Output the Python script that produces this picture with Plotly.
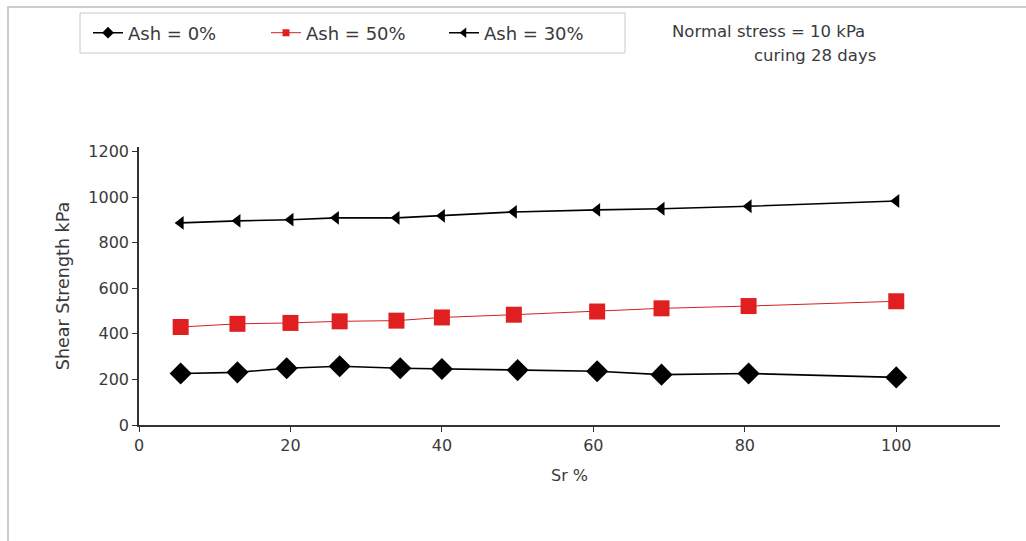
import plotly.graph_objects as go

# Data
sr_ash0 = [5.5, 13, 19.5, 26.5, 34.5, 40, 50, 60.5, 69, 80.5, 100]
ss_ash0 = [226, 231, 249, 258, 249, 246, 241, 236, 221, 226, 209]

sr_ash50 = [5.5, 13, 20, 26.5, 34, 40, 49.5, 60.5, 69, 80.5, 100]
ss_ash50 = [430, 444, 448, 455, 458, 472, 484, 498, 512, 522, 543]

sr_ash30 = [5.5, 13, 20, 26, 34, 40, 49.5, 60.5, 69, 80.5, 100]
ss_ash30 = [887, 896, 901, 909, 909, 918, 935, 944, 949, 960, 983]

names = ["Ash = 0%", "Ash = 50%", "Ash = 30%"]
x_ticks = [0, 20, 40, 60, 80, 100]
y_ticks = [0, 200, 400, 600, 800, 1000, 1200]

FONT = "DejaVu Sans, Verdana, sans-serif"
TXT = "#3a3a3a"

# plot area geometry (pixels) used to convert page positions to paper coords
L, R, T, B = 139, 26, 147, 116
W, H = 1026, 541
PW, PH = W - L - R, H - T - B


def px(x):
    return (x - L) / PW


def py(y):
    return (H - B - y) / PH


fig = go.Figure()

series = [
    (sr_ash0, ss_ash0, "black", "black", "diamond", 17, 9, 1.6),
    (sr_ash50, ss_ash50, "#d42020", "#e02020", "square", 16, 7, 1.0),
    (sr_ash30, ss_ash30, "black", "black", "triangle-left", 12, 9, 1.6),
]

for (xs, ys, lc, mc, sym, msize, lsize, lw), name in zip(series, names):
    fig.add_trace(go.Scatter(
        x=xs, y=ys, mode="lines+markers", name=name, showlegend=False,
        line=dict(color=lc, width=lw),
        marker=dict(symbol=sym, size=msize, color=mc, line=dict(width=0)),
    ))
    # legend-only entry with small markers
    fig.add_trace(go.Scatter(
        x=[None], y=[None], mode="lines+markers", name=name, showlegend=True,
        line=dict(color=lc, width=lw),
        marker=dict(symbol=sym, size=lsize, color=mc, line=dict(width=0)),
    ))

axis_common = dict(
    showgrid=False, zeroline=False, showline=True, linecolor="#333",
    linewidth=1.5, ticks="outside", ticklen=5, tickwidth=1.2,
    tickcolor="#333", tickfont=dict(family=FONT, size=16, color=TXT),
)

fig.update_xaxes(range=[0, 113.7], tickvals=x_ticks,
                 title=dict(text="Sr %", font=dict(family=FONT, size=16, color=TXT), standoff=16),
                 **axis_common)
fig.update_yaxes(range=[0, 1220], tickvals=y_ticks,
                 title=dict(text="Shear Strength kPa", font=dict(family=FONT, size=17.5, color=TXT), standoff=14),
                 **axis_common)

fig.update_layout(
    width=W, height=H,
    margin=dict(l=L, r=R, t=T, b=B),
    paper_bgcolor="white", plot_bgcolor="white",
    font=dict(family=FONT, color=TXT),
    legend=dict(
        orientation="h", x=px(88), y=py(33), xanchor="left", yanchor="middle",
        borderwidth=0, bgcolor="rgba(0,0,0,0)",
        font=dict(family=FONT, size=18, color=TXT),
        entrywidth=133, entrywidthmode="pixels", itemwidth=30,
    ),
    shapes=[
        # outer frame (top and left)
        dict(type="line", xref="paper", yref="paper",
             x0=px(7), x1=px(1030), y0=py(7), y1=py(7),
             line=dict(color="#cccccc", width=2)),
        dict(type="line", xref="paper", yref="paper",
             x0=px(8), x1=px(8), y0=py(7), y1=py(545),
             line=dict(color="#cccccc", width=2)),
        # legend box
        dict(type="rect", xref="paper", yref="paper",
             x0=px(80), x1=px(625), y0=py(53), y1=py(13),
             line=dict(color="#c8c8c8", width=1), layer="below"),
    ],
    annotations=[
        dict(text="Normal stress = 10 kPa", xref="paper", yref="paper",
             x=px(867), y=py(32),
             xanchor="right", yanchor="middle", showarrow=False,
             font=dict(family=FONT, size=16.5, color=TXT)),
        dict(text="curing 28 days", xref="paper", yref="paper",
             x=px(878), y=py(55),
             xanchor="right", yanchor="middle", showarrow=False,
             font=dict(family=FONT, size=16.5, color=TXT)),
    ],
)

fig.write_html("out.html")
